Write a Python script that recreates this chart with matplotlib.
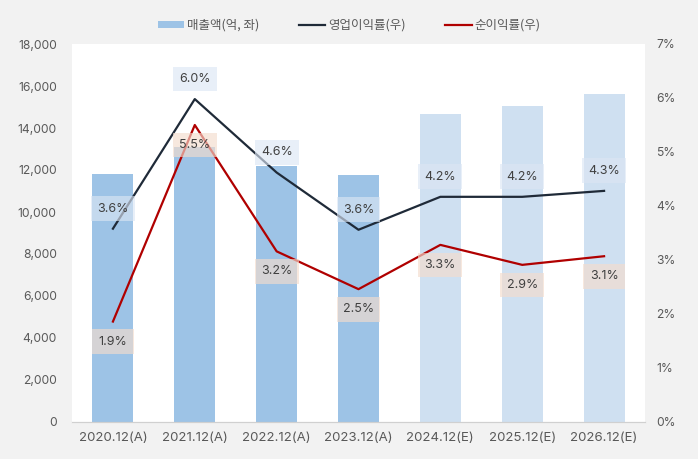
import matplotlib

matplotlib.use("Agg")
import matplotlib.pyplot as plt
from matplotlib.lines import Line2D
from matplotlib.patches import Patch
from matplotlib.ticker import FuncFormatter

plt.rcParams["font.family"] = ["Inter", "Noto Sans CJK KR", "DejaVu Sans"]

# data
years = ["2020.12(A)", "2021.12(A)", "2022.12(A)", "2023.12(A)",
         "2024.12(E)", "2025.12(E)", "2026.12(E)"]
is_estimate = [False, False, False, False, True, True, True]
sales = [11800, 13100, 12200, 11750, 14650, 15050, 15600]
op_margin = [3.58, 5.98, 4.62, 3.56, 4.17, 4.17, 4.28]
net_margin = [1.86, 5.50, 3.16, 2.46, 3.28, 2.91, 3.07]

BAR_ACT = "#9dc3e6"
BAR_EST = "#cfe0f1"
OP_COLOR = "#1f2a38"
NET_COLOR = "#b00000"
TXT = "#595959"

fig = plt.figure(figsize=(6.98, 4.59), dpi=100, facecolor="#f2f2f2")
ax = fig.add_axes([72 / 698, 37 / 459, 573 / 698, 378 / 459])
ax.set_facecolor("white")
ax2 = ax.twinx()

x = list(range(len(years)))
colors = [BAR_EST if e else BAR_ACT for e in is_estimate]
ax.bar(x, sales, width=0.5, color=colors, zorder=1)
ax.set_ylim(0, 18000)
ax.set_xlim(-0.5, len(years) - 0.5)
ax.set_yticks(range(0, 18001, 2000))
ax.yaxis.set_major_formatter(FuncFormatter(lambda v, _: f"{int(v):,}"))
ax.set_xticks(x)
ax.set_xticklabels(years)

ax2.plot(x, op_margin, color=OP_COLOR, lw=1.6, zorder=3)
ax2.plot(x, net_margin, color=NET_COLOR, lw=1.6, zorder=3)
ax2.set_ylim(0, 7)
ax2.set_yticks(range(0, 8))
ax2.yaxis.set_major_formatter(FuncFormatter(lambda v, _: f"{int(v)}%"))

for a in (ax, ax2):
    for side in ("top", "left", "right"):
        a.spines[side].set_visible(False)
    a.spines["bottom"].set_color("#d0d0d0")
    a.tick_params(length=0, labelsize=8.7, labelcolor=TXT)
ax.tick_params(axis="y", pad=11)
ax.tick_params(axis="x", pad=7, labelsize=9.5)
ax2.tick_params(axis="y", pad=8)

for xi, v in zip(x, op_margin):
    ax2.annotate(f"{v:.1f}%", (xi, v), xytext=(0, 14.5), textcoords="offset points",
                 ha="center", va="center", fontsize=9, color="#404040", zorder=5,
                 bbox=dict(boxstyle="square,pad=0.5", fc="#dce6f4", ec="none", alpha=0.63))
for xi, v in zip(x, net_margin):
    ax2.annotate(f"{v:.1f}%", (xi, v), xytext=(0, -14.5), textcoords="offset points",
                 ha="center", va="center", fontsize=9, color="#404040", zorder=5,
                 bbox=dict(boxstyle="square,pad=0.5", fc="#f4dccd", ec="none", alpha=0.65))

handles = [
    Patch(facecolor=BAR_ACT, edgecolor="none", label="매출액(억, 좌)"),
    Line2D([], [], color=OP_COLOR, lw=1.6, label="영업이익률(우)"),
    Line2D([], [], color=NET_COLOR, lw=1.6, label="순이익률(우)"),
]
fig.legend(handles=handles, loc="center", bbox_to_anchor=(0.5, 1 - 25 / 459), ncol=3,
           frameon=False, prop={"family": "Noto Sans CJK KR", "size": 9}, labelcolor=TXT,
           handlelength=2.1, handleheight=0.5, handletextpad=0.2, columnspacing=3.2)

fig.savefig("out.png", dpi=100, facecolor=fig.get_facecolor())
